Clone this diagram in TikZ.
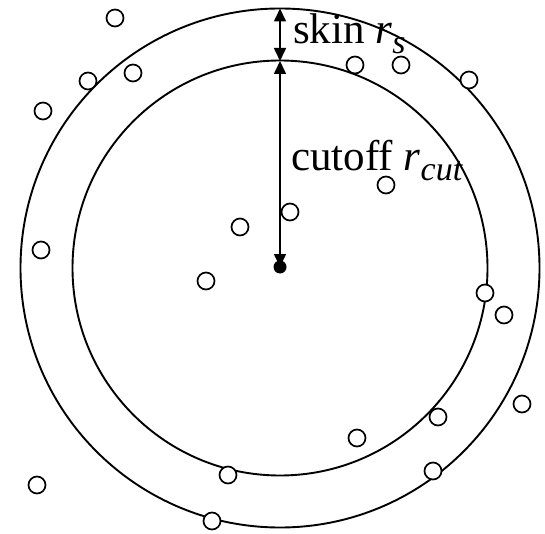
\documentclass[tikz,border=0pt]{standalone}
\usepackage{fontspec}
\setmainfont{Liberation Serif}
\usetikzlibrary{arrows.meta}
\newcommand{\subsc}[1]{\raisebox{-10pt}{\fontsize{34}{34}\selectfont\textit{#1}}}
\begin{document}
\begin{tikzpicture}[x=1pt,y=-1pt,
  ring/.style={draw=black,line width=1.9pt},
  particle/.style={circle,draw=black,line width=1.7pt,minimum size=17pt,inner sep=0pt,fill=white},
  dim/.style={line width=1.6pt,{Triangle[length=13pt,width=12pt]}-{Triangle[length=13pt,width=12pt]}},
  lbl/.style={anchor=west,inner sep=0pt,font=\fontsize{43}{48}\selectfont}]
\useasboundingbox (0,0) rectangle (545,534);
\draw[ring] (280,268) circle (259.5);
\draw[ring] (280,268) circle (207.5);
\coordinate (tin) at (280,61);
\coordinate (tout) at (280,8.5);
\node[circle,fill=black,minimum size=13pt,inner sep=0pt] (c) at (280,267) {};
\draw[dim] (c.center) -- (tin);
\draw[dim] (tin) -- (tout);
\node[lbl] (skin) at (293,34) {skin \textit{r}\subsc{s}};
\node[lbl] (cut) at (291,161) {cutoff \textit{r}\subsc{cut}};
\foreach \n/\x/\y in {p1/115/18,p2/88/81,p3/133/73,p4/43/111,p5/355/65,p6/401/65,p7/469/80,p8/386/185,p9/290/212,p10/240/227,p11/41/250,p12/206/281,p13/485/293,p14/504/315,p15/522/404,p16/438/417,p17/357/438,p18/228/475,p19/433/471,p20/37/485,p21/212/521}
  \node[particle] (\n) at (\x,\y) {};
\end{tikzpicture}
\end{document}
